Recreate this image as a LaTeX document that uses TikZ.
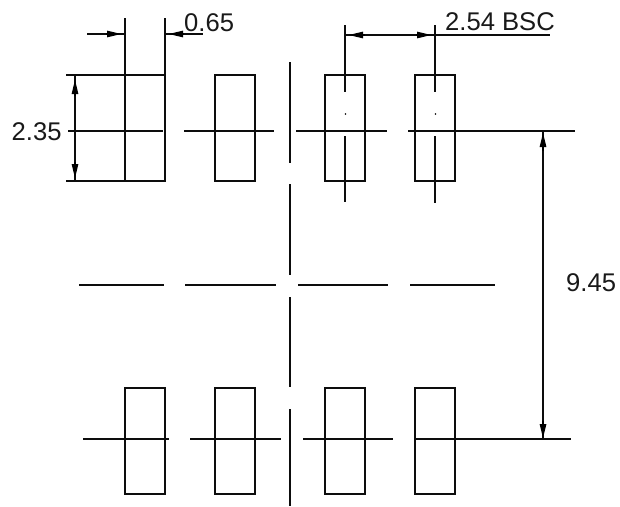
\documentclass[tikz,border=0pt]{standalone}
\usepackage{fontspec}
\setmainfont{Liberation Sans}
\usetikzlibrary{arrows.meta}
\tikzset{
  x=1pt,y=-1pt,
  ln/.style={draw=black!95,line width=1.6pt},
  thin ln/.style={draw=black!95,line width=1.6pt},
  pad/.style={ln},
  dimhead/.style={line width=1.2pt,-{Triangle[length=14pt,width=6.5pt]}},
  lbl/.style={inner sep=0pt,font=\fontsize{25.6}{26}\selectfont,text=black!90,anchor=base west},
}
\newcommand{\padbox}[2]{\draw[pad] (#1,#2) rectangle ++(40,106);}
\begin{document}
\begin{tikzpicture}
\useasboundingbox (0,0) rectangle (620,506);
\fill[white] (0,0) rectangle (620,506);
% pads
\padbox{125}{75}\padbox{215}{75}\padbox{325}{75}\padbox{415}{75}
\padbox{125}{388}\padbox{215}{388}\padbox{325}{388}\padbox{415}{388}
% centre lines, top row
\draw[thin ln] (68,131)--(163,131) (184,131)--(274,131) (296,131)--(387,131) (408,131)--(575,131);
% centre lines, middle row
\draw[thin ln] (79,285)--(164,285) (185,285)--(276,285) (298,285)--(388,285) (410,285)--(495,285);
% centre lines, bottom row
\draw[thin ln] (83,439)--(169,439) (190,439)--(281,439) (303,439)--(393,439) (415,439)--(571,439);
% vertical axis
\draw[thin ln] (290,62)--(290,163) (290,184)--(290,275) (290,297)--(290,387) (290,409)--(290,506);
% pad 3 and 4 axes
\draw[thin ln] (345,25)--(345,92) (345,136)--(345,202);
\draw[thin ln] (435,25)--(435,92) (435,136)--(435,203);
\fill (345.5,114) circle (0.8);
\fill (435.5,114) circle (0.8);
% extension lines
\draw[thin ln] (125,18)--(125,75) (165,18)--(165,75);
\draw[thin ln] (66,75)--(125,75) (66,181)--(125,181);
% 0.65
\draw[thin ln] (87,34)--(125,34) (165,34)--(203,34);
\draw[dimhead] (106,34)--(121,34);
\draw[dimhead] (184,34)--(169,34);
% 2.35
\draw[thin ln] (75,75)--(75,181);
\draw[dimhead] (75,96)--(75,80);
\draw[dimhead] (75,162)--(75,178);
% 2.54 BSC
\draw[thin ln] (345,35)--(550,35);
\draw[dimhead] (365,35)--(349,35);
\draw[dimhead] (416,35)--(431,35);
% 9.45
\draw[thin ln] (543,131)--(543,439);
\draw[dimhead] (543,151)--(543,133);
\draw[dimhead] (543,421)--(543,438);
% labels
\node[lbl] (t065) at (184,31) {0.65};
\node[lbl] (t254) at (445,30) {2.54 BSC};
\node[lbl] (t235) at (11.5,140.5) {2.35};
\node[lbl] (t945) at (566,291.5) {9.45};
\end{tikzpicture}
\end{document}
